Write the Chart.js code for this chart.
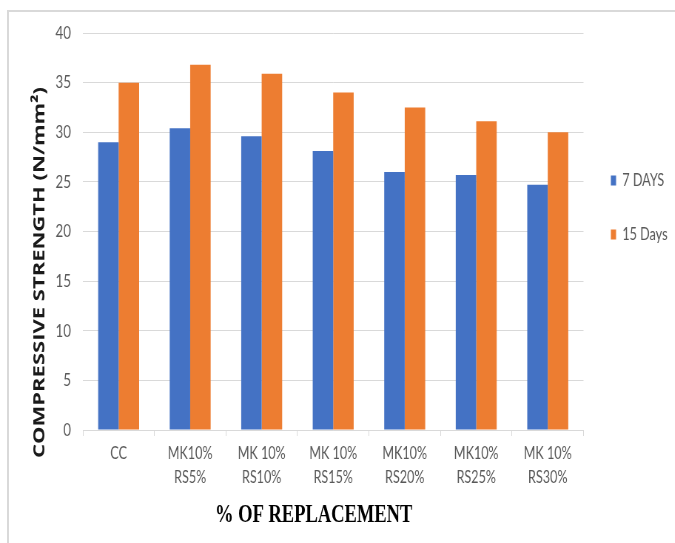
<!DOCTYPE html>
<html>
<head>
<meta charset="utf-8">
<script src="https://cdn.jsdelivr.net/npm/chart.js@4/dist/chart.umd.min.js"></script>
<style>
  html, body { margin: 0; padding: 0; background: #ffffff; }
  body { width: 675px; height: 543px; position: relative; overflow: hidden; }
  #frame {
    position: absolute; left: 7px; top: 10px; width: 720px; height: 600px;
    border-left: 2px solid #d9d9d9; border-top: 2px solid #d9d9d9;
  }
  /* the chart is laid out on a wider canvas and squeezed horizontally */
  #wrap {
    position: absolute; left: 0; top: 0; width: 912px; height: 543px;
    transform: scaleX(0.74); transform-origin: 0 0;
  }
</style>
</head>
<body>
<div id="frame"></div>
<div id="wrap"><canvas id="c" width="912" height="543"></canvas></div>
<script>
const categories = [
  ['CC'],
  ['MK10%', 'RS5%'],
  ['MK 10%', 'RS10%'],
  ['MK 10%', 'RS15%'],
  ['MK10%', 'RS20%'],
  ['MK10%', 'RS25%'],
  ['MK 10%', 'RS30%']
];
const sevenDays = [29.0, 30.4, 29.6, 28.1, 26.0, 25.7, 24.7];
const fifteenDays = [35.0, 36.8, 35.9, 34.0, 32.5, 31.1, 30.0];
const seriesNames = ['7 DAYS', '15 Days'];
const yTitle = 'COMPRESSIVE STRENGTH (N/mm\u00B2)';
const xTitle = '% OF REPLACEMENT';

const LABEL_GREY = '#595959';
const GRID_GREY = '#d9d9d9';

// axis titles placed freely around the plot area
const axisTitles = {
  id: 'axisTitles',
  afterDraw(chart) {
    const { ctx, chartArea } = chart;
    ctx.save();
    ctx.fillStyle = '#1a1a1a';
    ctx.textAlign = 'center';
    ctx.textBaseline = 'middle';
    ctx.font = 'bold 22px "Open Sans", sans-serif';
    ctx.translate(54, (chartArea.top + chartArea.bottom) / 2 + 41);
    ctx.rotate(-Math.PI / 2);
    ctx.fillText(yTitle, 0, 0);
    ctx.restore();

    ctx.save();
    ctx.fillStyle = '#000000';
    ctx.textAlign = 'center';
    ctx.textBaseline = 'middle';
    ctx.font = 'bold 25px "Liberation Serif", serif';
    ctx.fillText(xTitle, chartArea.left + chartArea.width * 0.461, 516);
    ctx.restore();
  }
};

new Chart(document.getElementById('c'), {
  type: 'bar',
  data: {
    labels: categories,
    datasets: [
      { label: seriesNames[0], data: sevenDays, backgroundColor: '#4472C4',
        categoryPercentage: 0.573, barPercentage: 1.0 },
      { label: seriesNames[1], data: fifteenDays, backgroundColor: '#ED7D31',
        categoryPercentage: 0.573, barPercentage: 1.0 }
    ]
  },
  options: {
    responsive: false,
    devicePixelRatio: 1,
    animation: false,
    layout: { padding: { top: 33, right: 0, bottom: 0, left: 0 } },
    plugins: {
      tooltip: { enabled: false },
      legend: {
        position: 'right',
        align: 'start',
        title: { display: true, text: '', font: { size: 10 }, padding: { top: 90, bottom: 0 } },
        labels: {
          color: LABEL_GREY,
          font: { family: 'Lato', size: 17 },
          boxWidth: 7,
          boxHeight: 10,
          padding: 37
        }
      }
    },
    scales: {
      x: {
        grid: { offset: true, drawOnChartArea: false, drawTicks: true, tickLength: 6, color: GRID_GREY },
        border: { display: true, color: GRID_GREY },
        ticks: {
          color: LABEL_GREY,
          font: { family: 'Lato', size: 17, lineHeight: 1.42 },
          padding: 5,
          maxRotation: 0,
          autoSkip: false
        },
        afterFit(scale) { scale.height = 113; }
      },
      y: {
        min: 0,
        max: 40,
        grid: { color: GRID_GREY, drawTicks: false },
        border: { display: false },
        ticks: {
          stepSize: 5,
          color: LABEL_GREY,
          font: { family: 'Lato', size: 18 },
          padding: 16
        },
        afterFit(scale) { scale.width = 112; }
      }
    }
  },
  plugins: [axisTitles]
});
</script>
</body>
</html>
